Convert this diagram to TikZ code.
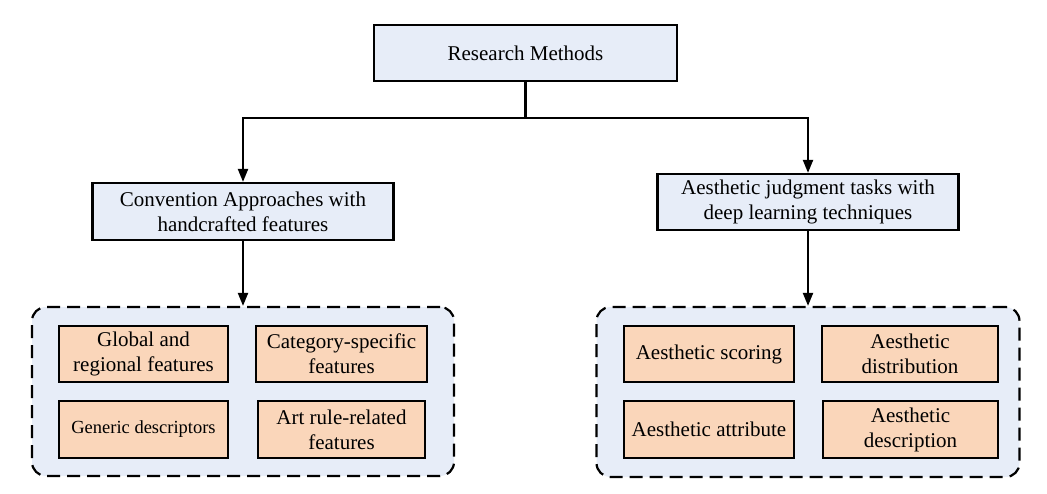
\documentclass[tikz,border=0pt]{standalone}
\usepackage{fontspec}
\setmainfont{Liberation Serif}
\usepackage{tikz}
\usetikzlibrary{arrows.meta, positioning, calc}
\definecolor{cBlue}{RGB}{231, 237, 248}
\definecolor{cOrange}{RGB}{250, 214, 186}
\tikzstyle{flow} = [-{Triangle[length=13pt,width=10pt]},line width=2.1pt]
\tikzstyle{MethodBox}=[rectangle,
		line width=2.2pt,
		minimum height=56pt,
		inner sep=2pt,
		align=center,
		draw=black,
		fill=cBlue,
		font=\fontsize{21}{25}\selectfont]
\tikzstyle{FeatureBox}=[rectangle,
		line width=1.5pt,
		minimum height=56pt,
		inner sep=2pt,
		align=center,
		draw=black,
		fill=cOrange,
		font=\fontsize{21}{25}\selectfont]
\tikzstyle{GroupBox}=[rectangle,
		line width=2.2pt,
		rounded corners=14pt,
		dash pattern=on 13pt off 7pt,
		draw=black,
		fill=cBlue]

\begin{document}
\begin{tikzpicture}[x=1pt,y=-1pt]
  \useasboundingbox (0,0) rectangle (1047,494);

  % dashed groups
  \node [GroupBox,minimum width=422pt,minimum height=169pt] (convgroup) at (243,391.5) {};
  \node [GroupBox,minimum width=423pt,minimum height=170pt] (deepgroup) at (808,392) {};

  % method nodes
  \node [MethodBox,minimum width=303pt] (research) at (525.5,53) {Research Methods};
  \node [MethodBox,minimum width=301pt,minimum height=57pt] (conv) at (243,211.5) {Convention Approaches with\\handcrafted features};
  \node [MethodBox,minimum width=301pt] (deep) at (808,202) {Aesthetic judgment tasks with\\deep learning techniques};
  \coordinate (split) at (525.5,118);

  % feature nodes
  \node [FeatureBox,minimum width=169pt] (global) at (143.5,354) {Global and\\regional features};
  \node [FeatureBox,minimum width=171pt] (category) at (341.5,354) {Category-specific\\features};
  \node [FeatureBox,minimum width=169pt,minimum height=57pt] (generic) at (143.5,429.5) {\fontsize{18.5}{22}\selectfont Generic descriptors};
  \node [FeatureBox,minimum width=167pt,minimum height=57pt] (artrule) at (341.5,429.5) {Art rule-related\\features};

  \node [FeatureBox,minimum width=170pt] (scoring) at (709,354) {Aesthetic scoring};
  \node [FeatureBox,minimum width=176pt] (distrib) at (910,354) {Aesthetic\\distribution};
  \node [FeatureBox,minimum width=170pt,minimum height=57pt] (attrib) at (709,429.5) {Aesthetic attribute};
  \node [FeatureBox,minimum width=175pt,minimum height=57pt] (descr) at (910.5,429.5) {Aesthetic\\description};

  % connectors
  \draw [line width=2.1pt] (research.south) -- (split);
  \draw [flow] (split) -| (conv.north);
  \draw [flow] (split) -| (deep.north);
  \draw [flow] (conv.south) -- (convgroup.north);
  \draw [flow] (deep.south) -- (deepgroup.north);

\end{tikzpicture}
\end{document}
